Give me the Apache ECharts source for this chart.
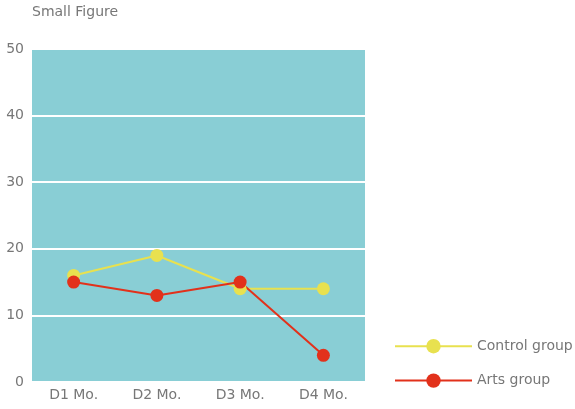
<!DOCTYPE html>
<html>
<head>
<meta charset="utf-8">
<script src="https://cdn.jsdelivr.net/npm/echarts@6/dist/echarts.min.js"></script>
<style>html,body{margin:0;padding:0;background:#fff}#c{width:575px;height:409px}</style>
</head>
<body>
<div id="c"></div>
<script>
const months = ['D1 Mo.', 'D2 Mo.', 'D3 Mo.', 'D4 Mo.'];
const controlGroup = [16, 19, 14, 14];
const artsGroup = [15, 13, 15, 4];

const chart = echarts.init(document.getElementById('c'));
const font = 'DejaVu Sans';
chart.setOption({
  animation: false,
  textStyle: { fontFamily: font },
  title: {
    text: 'Small Figure', left: 27, top: 0,
    textStyle: { fontSize: 14, fontWeight: 'normal', color: '#777', fontFamily: font }
  },
  grid: {
    left: 32, right: 210, top: 49, bottom: 27,
    show: true, backgroundColor: '#89ced5', borderWidth: 0
  },
  legend: {
    orient: 'vertical', left: 389, top: 334, itemGap: 20,
    itemWidth: 77, itemHeight: 18,
    textStyle: { fontSize: 14, color: '#777', fontFamily: font },
    lineStyle: { width: 2 },
    data: ['Control group', 'Arts group']
  },
  xAxis: {
    type: 'category', data: months,
    axisLine: { lineStyle: { color: '#fff', width: 2 } },
    axisTick: { inside: true, length: 7, lineStyle: { color: '#fff', width: 2 } },
    axisLabel: { color: '#777', fontSize: 14, margin: 6 }
  },
  yAxis: {
    type: 'value', min: 0, max: 50, interval: 10,
    axisLine: { show: false }, axisTick: { show: false },
    axisLabel: { color: '#777', fontSize: 14, margin: 8 },
    splitLine: { lineStyle: { color: '#fff', width: 2 } }
  },
  series: [
    {
      name: 'Control group', type: 'line', data: controlGroup,
      symbol: 'circle', symbolSize: 13,
      itemStyle: { color: '#e8e14f' },
      lineStyle: { color: '#e8e14f', width: 2 }
    },
    {
      name: 'Arts group', type: 'line', data: artsGroup,
      symbol: 'circle', symbolSize: 13,
      itemStyle: { color: '#e2311b' },
      lineStyle: { color: '#e2311b', width: 2 }
    }
  ]
});
</script>
</body>
</html>
